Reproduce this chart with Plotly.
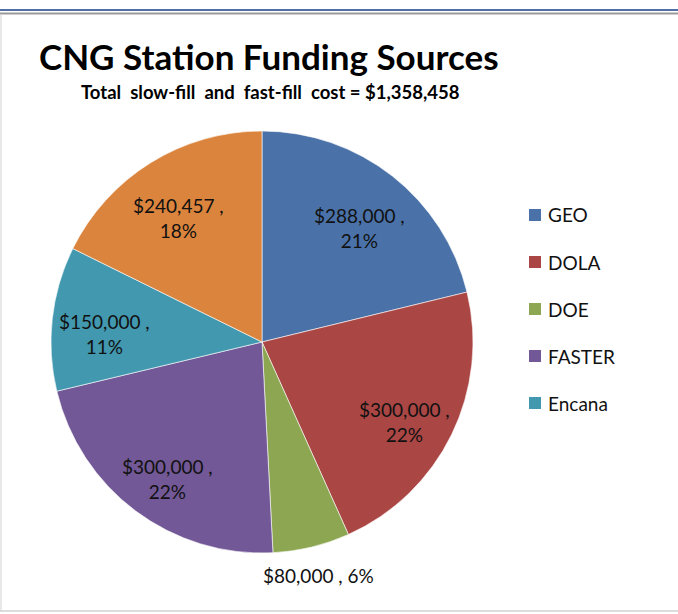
import math
import plotly.graph_objects as go

labels = ["GEO", "DOLA", "DOE", "FASTER", "Encana", "Other"]
values = [288000, 300000, 80000, 300000, 150000, 240457]
colors = ["#4A72A8", "#AA4644", "#8CA652", "#725896", "#4298AF", "#DB843D"]
legend_labels = ["GEO", "DOLA", "DOE", "FASTER", "Encana"]
title_text = "CNG Station Funding Sources"
subtitle_text = "Total slow-fill and fast-fill cost = $1,358,458"

W, H = 678, 614
cx, cy, r = 262, 342, 211  # pie centre/radius in pixels (from top)

fig = go.Figure()
fig.add_trace(go.Pie(
    labels=labels, values=values, sort=False, direction="clockwise",
    rotation=0, marker=dict(colors=colors, line=dict(color="white", width=0.6)),
    textinfo="none", hoverinfo="label+value+percent", showlegend=False,
    domain=dict(x=[(cx - r) / W, (cx + r) / W], y=[(H - cy - r) / H, (H - cy + r) / H]),
))

total = sum(values)
annotations = []
cum = 0
for lab, v in zip(labels, values):
    mid = (cum + v / 2) / total * 2 * math.pi
    cum += v
    pct = round(v / total * 100)
    if lab == "DOE":
        k, dy = 1.14, 0
        txt = f"${v:,} , {pct}%"
    else:
        k, dy = 0.75, 10
        txt = f"${v:,} ,<br>{pct}%"
    px = cx + k * r * math.sin(mid)
    py = cy - k * r * math.cos(mid) + dy
    annotations.append(dict(x=px / W, y=1 - py / H, xref="paper", yref="paper",
                            xanchor="center", yanchor="middle",
                            text=txt, showarrow=False,
                            font=dict(family="Lato", size=19, color="#111")))

annotations.append(dict(x=269 / W, y=1 - 56 / H, xref="paper", yref="paper", text=f"<b>{title_text}</b>",
                        xanchor="center", yanchor="middle",
                        showarrow=False, font=dict(family="Lato", size=35, color="black")))
annotations.append(dict(x=270 / W, y=1 - 92 / H, xref="paper", yref="paper",
                        text="<b>" + subtitle_text.replace(" ", "&nbsp;&nbsp;", 4) + "</b>",
                        xanchor="center", yanchor="middle",
                        showarrow=False, font=dict(family="Lato", size=18.5, color="black")))

shapes = []
for i, lab in enumerate(legend_labels):
    yc = 215 + i * 47
    shapes.append(dict(type="rect", xref="paper", yref="paper",
                       x0=529 / W, x1=541 / W, y0=1 - (yc + 6) / H, y1=1 - (yc - 6) / H,
                       fillcolor=colors[i], line=dict(width=0)))
    annotations.append(dict(x=546 / W, y=1 - yc / H, xref="paper", yref="paper", text=lab,
                            xanchor="left", yanchor="middle", showarrow=False,
                            font=dict(family="Lato", size=19, color="#111")))

# frame lines
shapes.append(dict(type="line", xref="paper", yref="paper", x0=0, x1=1, y0=1 - 10 / H, y1=1 - 10 / H,
                   line=dict(color="#4F6FA8", width=2)))
shapes.append(dict(type="line", xref="paper", yref="paper", x0=0, x1=1, y0=1 - 13.5 / H, y1=1 - 13.5 / H,
                   line=dict(color="#9A9A9A", width=2)))
shapes.append(dict(type="line", xref="paper", yref="paper", x0=1 / W, x1=1 / W, y0=1 - 611 / H, y1=1 - 14 / H,
                   line=dict(color="#D0D0D0", width=1)))
shapes.append(dict(type="line", xref="paper", yref="paper", x0=0, x1=1, y0=1 - 611 / H, y1=1 - 611 / H,
                   line=dict(color="#D0D0D0", width=1.5)))

fig.update_layout(width=W, height=H, margin=dict(l=0, r=0, t=0, b=0),
                  paper_bgcolor="white", plot_bgcolor="white",
                  annotations=annotations, shapes=shapes)
fig.write_html("out.html", config={"displayModeBar": False},
               post_script="document.body.style.margin='0';document.body.style.overflow='hidden';")
